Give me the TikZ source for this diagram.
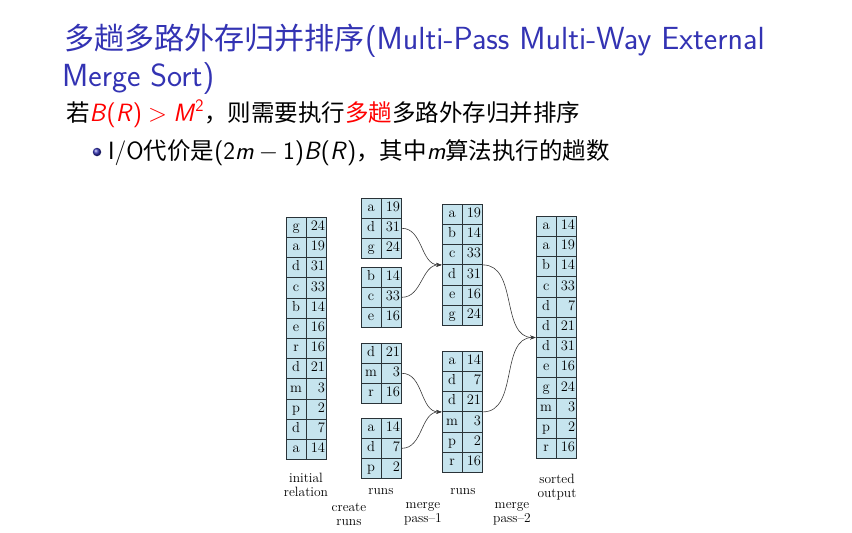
\documentclass[tikz,border=0pt]{standalone}
\usepackage{fontspec}
\newfontfamily\cjk[Scale=0.94]{Noto Sans CJK SC}
\usepackage{tikz}
\usetikzlibrary{arrows.meta}
\definecolor{structBlue}{HTML}{3333B3}
\definecolor{hiRed}{HTML}{FF0000}
\definecolor{cellFill}{HTML}{C6E4EE}
\definecolor{cellLine}{HTML}{2A3338}
\definecolor{flowGray}{HTML}{3A3A3A}

\begin{document}
\begin{tikzpicture}[
    x=1pt, y=-1pt,
    cell/.style={draw=cellLine, fill=cellFill, line width=0.6pt, minimum height=20.2pt,
      text width=17.3pt, inner xsep=1.5pt, inner ysep=0pt, text height=9.5pt, text depth=2.8pt,
      font=\fontsize{14.5}{16}\selectfont},
    ckey/.style={cell, align=center},
    cval/.style={cell, align=right},
    flow/.style={draw=flowGray, line width=0.6pt, -{Stealth[length=5.5pt,width=4pt]}},
    lbl/.style={align=center, font=\fontsize{13.5}{14}\selectfont, inner sep=0pt},
    ttl/.style={anchor=base west, inner sep=0pt, text=structBlue, font=\sffamily\fontsize{32}{38}\selectfont},
    body/.style={anchor=base west, inner sep=0pt, font=\sffamily\fontsize{25}{30}\selectfont},
    bullet/.style={circle, ball color=structBlue, minimum size=8.5pt, inner sep=0pt},
]
  \useasboundingbox (0,0) rectangle (852,533);
  % heading and text lines
  \node[ttl] (ttl1) at (64,49) {{\cjk 多趟多路外存归并排序}(Multi-Pass Multi-Way External};
  \node[ttl] (ttl2) at (62,86) {Merge Sort)};
  \node[body] (cond) at (66,121) {{\cjk 若}\textcolor{hiRed}{\textit{B}(\textit{R})\hspace{.25em}$>$\hspace{.25em}\textit{M}\textsuperscript{2}}{\cjk ，则需要执行\textcolor{hiRed}{多趟}多路外存归并排序}};
  \node[bullet] (bul) at (97,152) {};
  \node[body] (cost) at (108,159) {I/O{\cjk 代价是}(2\textit{m}\hspace{.2em}$-$\hspace{.2em}1)\textit{B}(\textit{R}){\cjk ，其中}\textit{m}{\cjk 算法执行的趟数}};
  % initial relation
  \foreach \k/\v [count=\i] in {g/24,a/19,d/31,c/33,b/14,e/16,r/16,d/21,m/3,p/2,d/7,a/14}{
    \node[ckey] (ini-k\i) at (296.15,{217+20.2*(\i-0.5)}) {\k};
    \node[cval] (ini-v\i) at (316.45,{217+20.2*(\i-0.5)}) {\v};
  }
  % runs after create runs
  \foreach \k/\v [count=\i] in {a/19,d/31,g/24}{
    \node[ckey] (ra-k\i) at (371.15,{198+20.2*(\i-0.5)}) {\k};
    \node[cval] (ra-v\i) at (391.45,{198+20.2*(\i-0.5)}) {\v};
  }
  \foreach \k/\v [count=\i] in {b/14,c/33,e/16}{
    \node[ckey] (rb-k\i) at (371.15,{267+20.2*(\i-0.5)}) {\k};
    \node[cval] (rb-v\i) at (391.45,{267+20.2*(\i-0.5)}) {\v};
  }
  \foreach \k/\v [count=\i] in {d/21,m/3,r/16}{
    \node[ckey] (rc-k\i) at (371.15,{343+20.2*(\i-0.5)}) {\k};
    \node[cval] (rc-v\i) at (391.45,{343+20.2*(\i-0.5)}) {\v};
  }
  \foreach \k/\v [count=\i] in {a/14,d/7,p/2}{
    \node[ckey] (rd-k\i) at (371.15,{418+20.2*(\i-0.5)}) {\k};
    \node[cval] (rd-v\i) at (391.45,{418+20.2*(\i-0.5)}) {\v};
  }
  % runs after merge pass-1
  \foreach \k/\v [count=\i] in {a/19,b/14,c/33,d/31,e/16,g/24}{
    \node[ckey] (pa-k\i) at (452.15,{204+20.2*(\i-0.5)}) {\k};
    \node[cval] (pa-v\i) at (472.45,{204+20.2*(\i-0.5)}) {\v};
  }
  \foreach \k/\v [count=\i] in {a/14,d/7,d/21,m/3,p/2,r/16}{
    \node[ckey] (pb-k\i) at (452.15,{351+20.2*(\i-0.5)}) {\k};
    \node[cval] (pb-v\i) at (472.45,{351+20.2*(\i-0.5)}) {\v};
  }
  % sorted output
  \foreach \k/\v [count=\i] in {a/14,a/19,b/14,c/33,d/7,d/21,d/31,e/16,g/24,m/3,p/2,r/16}{
    \node[ckey] (so-k\i) at (546.15,{216+20.2*(\i-0.5)}) {\k};
    \node[cval] (so-v\i) at (566.45,{216+20.2*(\i-0.5)}) {\v};
  }
  % merge arrows
  \draw[flow] (ra-v2.east) to[out=0,in=180] (pa-k3.south west);
  \draw[flow] (rb-v2.east) to[out=0,in=180] (pa-k3.south west);
  \draw[flow] (rc-v2.east) to[out=0,in=180] (pb-k3.south west);
  \draw[flow] (rd-v2.east) to[out=0,in=180] (pb-k3.south west);
  \draw[flow] (pa-v3.south east) to[out=0,in=180] (so-k6.south west);
  \draw[flow] (pb-v3.south east) to[out=0,in=180] (so-k6.south west);
  % column labels
  \node[lbl] (l-ini) at (306,485) {initial\\relation};
  \node[lbl] (l-runs1) at (381,492) {runs};
  \node[lbl] (l-create) at (349,514) {create\\runs};
  \node[lbl] (l-mp1) at (423,514) {merge\\pass--1};
  \node[lbl] (l-runs2) at (463,492) {runs};
  \node[lbl] (l-mp2) at (512,514) {merge\\pass--2};
  \node[lbl] (l-sorted) at (557,487) {sorted\\output};
\end{tikzpicture}
\end{document}
